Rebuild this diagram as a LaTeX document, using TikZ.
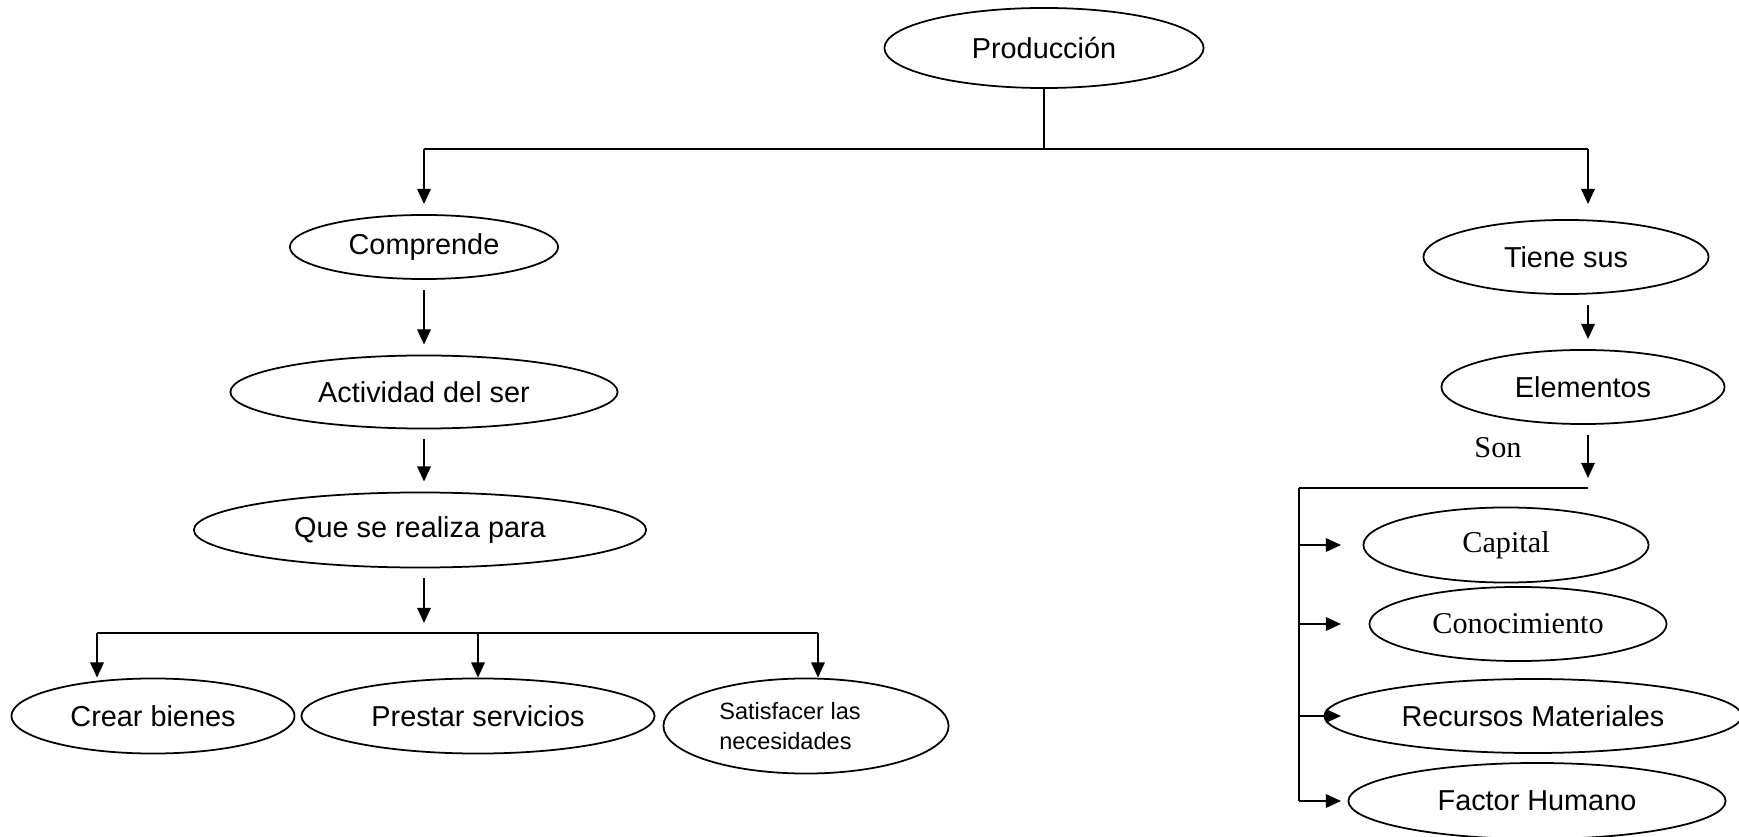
\documentclass[tikz,border=0pt]{standalone}
\usepackage{fontspec}
\setmainfont{Liberation Sans}
\newfontfamily\serifrm{Liberation Serif}
\usetikzlibrary{shapes.geometric,arrows.meta}

\begin{document}
\begin{tikzpicture}[x=0.01cm,y=-0.01cm,line width=.6pt,
    bub/.style={ellipse,draw,line width=.5pt,inner sep=0pt,minimum height=.75cm,
      font=\fontsize{8.2}{10}\selectfont},
    arr/.style={-{Triangle[length=4.3pt,width=3.8pt]}},
    gap/.style={shorten <=1mm,shorten >=1mm}]
      \useasboundingbox (0,0) rectangle (1739,837);
      \node[bub,minimum width=3.19cm,minimum height=.8cm] (prod) at (1044,48) {Producción};
      \node[bub,minimum width=2.68cm,minimum height=.64cm] (comp) at (424,247) {Comprende};
      \node[bub,minimum width=3.87cm,minimum height=.73cm] (act) at (424,392) {Actividad del ser};
      \node[bub,minimum width=4.52cm] (que) at (420,530) {Que se realiza para};
      \node[bub,minimum width=2.83cm] (crear) at (153,716) {Crear bienes};
      \node[bub,minimum width=3.53cm] (prest) at (478,716) {Prestar servicios};
      \node[bub,minimum width=2.85cm,minimum height=.95cm,align=left,
        font=\fontsize{6.7}{8.4}\selectfont] (sat) at (806,726) {Satisfacer las\hspace*{.32cm}\\necesidades};
      \node[bub,minimum width=2.85cm,minimum height=.74cm] (tiene) at (1566,257) {Tiene sus};
      \node[bub,minimum width=2.83cm,minimum height=.74cm] (elem) at (1583,387) {Elementos};
      \node[bub,minimum width=2.85cm,font=\serifrm\fontsize{8.6}{10}\selectfont] (cap) at (1506,545) {Capital};
      \node[bub,minimum width=2.97cm,minimum height=.74cm,font=\serifrm\fontsize{8.6}{10}\selectfont] (con) at (1518,624) {Conocimiento};
      \node[bub,minimum width=4.17cm,minimum height=.74cm] (rec) at (1533,716) {Recursos Materiales};
      \node[bub,minimum width=3.77cm,minimum height=.76cm] (fac) at (1537,801) {Factor Humano};
      \node[font=\serifrm\fontsize{8.6}{10}\selectfont] (son) at (1498,448) {Son};
      \coordinate (tl) at (424,149);
      \coordinate (tr) at (1588,149);
      \coordinate (bl) at (97,633);
      \coordinate (br) at (818,633);
      \coordinate (sl) at (1299,488);
      \coordinate (sr) at (1588,488);
      \draw (prod.south) -- (prod.south |- tl);
      \draw (tl) -- (tr);
      \draw[arr,shorten >=1mm] (tl) -- (comp.north);
      \draw[arr,gap] (comp.south) -- (act.north);
      \draw[arr,gap] (act.south) -- (act.south |- que.north);
      \draw[arr,gap] (tl |- que.south) -- (tl |- bl);
      \draw (bl) -- (br);
      \draw[arr] (bl) -- (bl |- crear.north);
      \draw[arr] (prest.north |- bl) -- (prest.north);
      \draw[arr] (br) -- (br |- sat.north);
      \draw[arr,shorten >=1.5mm] (tr) -- (tr |- tiene.north);
      \draw[arr,gap] (tr |- tiene.south) -- (tr |- elem.north);
      \draw[arr,gap] (tr |- elem.south) -- (sr);
      \draw (sl) -- (sr);
      \draw (sl) -- (sl |- fac);
      \foreach \n in {cap,con,rec,fac}
        \draw[arr] (sl |- \n) -- ++(42,0);
    \end{tikzpicture}
\end{document}
